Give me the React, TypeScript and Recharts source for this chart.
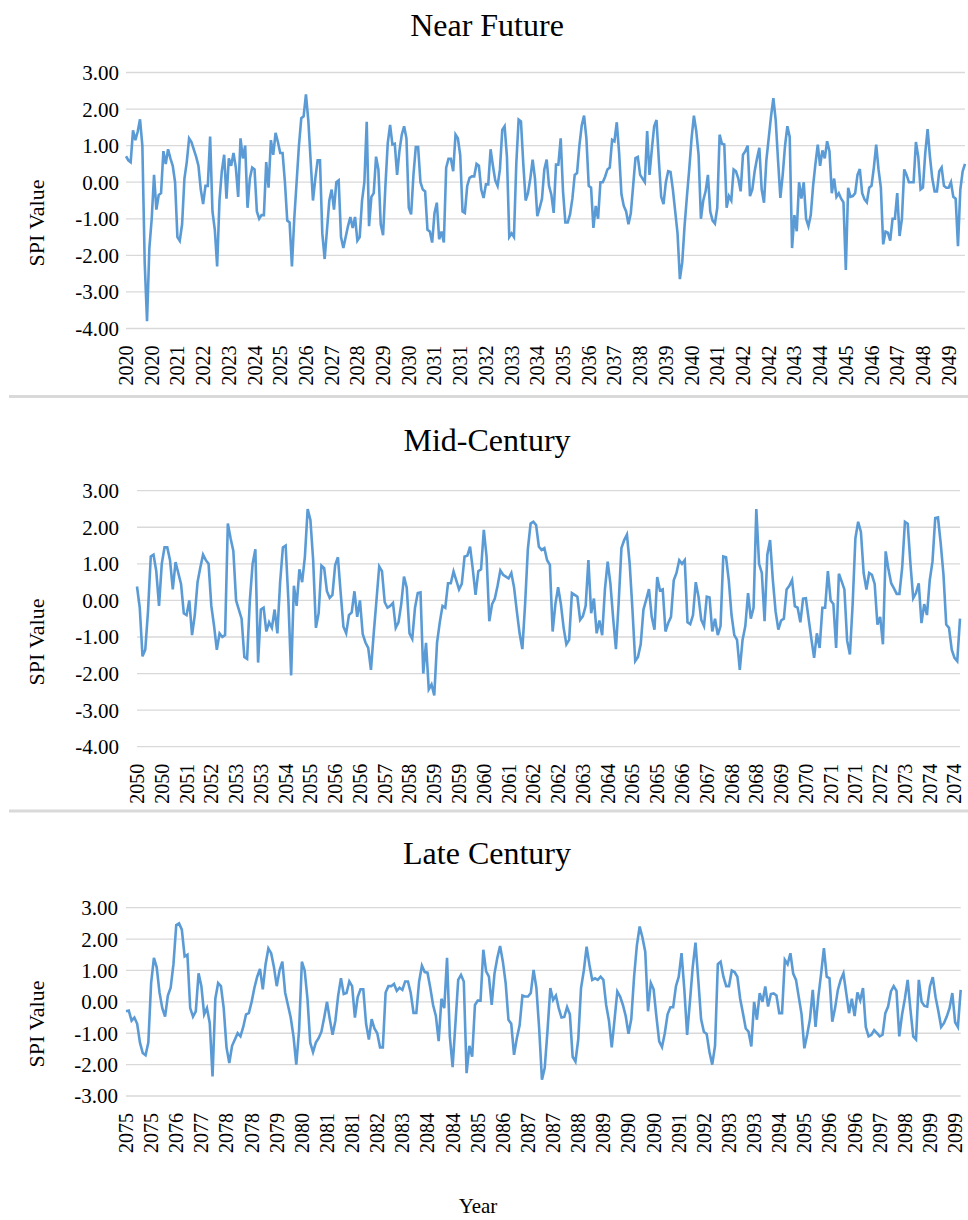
import React from "react";
import { CartesianGrid, Line, LineChart, XAxis, YAxis } from "recharts";

// monthly SPI, one row per year
const NEAR_FUTURE_START = 2020;
const NEAR_FUTURE_SPI = [
  0.71, 0.6, 0.55, 1.42, 1.15, 1.38, 1.72, 1.0, -2.2, -3.8, -1.8, -1.0,
  0.2, -0.75, -0.35, -0.3, 0.85, 0.5, 0.9, 0.65, 0.45, 0.0, -1.5, -1.6,
  -1.15, 0.1, 0.55, 1.2, 1.1, 0.9, 0.7, 0.45, -0.2, -0.6, -0.1, -0.1,
  1.25, -0.8, -1.3, -2.3, -0.5, 0.3, 0.75, -0.45, 0.65, 0.45, 0.8, 0.4,
  -0.4, 1.2, 0.65, 1.0, -0.7, 0.1, 0.4, 0.35, -0.8, -1.0, -0.9, -0.9,
  0.55, -0.15, 1.15, 0.75, 1.35, 1.1, 0.8, 0.8, 0.0, -1.05, -1.1, -2.3,
  -1.0, 0.0, 1.0, 1.75, 1.8, 2.4, 1.7, 0.6, -0.5, 0.1, 0.6, 0.6,
  -1.4, -2.1, -1.3, -0.5, -0.2, -0.75, 0.0, 0.05, -1.5, -1.8, -1.5, -1.2,
  -0.95, -1.25, -0.95, -1.6, -1.5, -0.5, 0.0, 1.65, -1.2, -0.4, -0.3, 0.7,
  0.35, -1.15, -1.45, -0.1, 1.07, 1.57, 1.03, 1.05, 0.2, 0.85, 1.3, 1.53,
  1.2, -0.7, -0.88, 0.2, 0.96, 0.96, 0.0, -0.2, -0.25, -1.3, -1.35, -1.65,
  -0.85, -0.56, -1.56, -1.35, -1.65, 0.4, 0.64, 0.64, 0.3, 1.3, 1.2, 0.75,
  -0.8, -0.84, -0.1, 0.12, 0.16, 0.16, 0.5, 0.45, -0.2, -0.43, -0.06, -0.06,
  0.9, 0.45, 0.05, -0.1, 0.35, 1.43, 1.53, 0.7, -1.5, -1.4, -1.5, 0.5,
  1.71, 1.66, 0.5, -0.5, -0.3, 0.1, 0.62, 0.1, -0.93, -0.7, -0.45, 0.35,
  0.62, -0.1, -0.34, -0.84, 0.48, 0.48, 1.2, -0.25, -1.1, -1.1, -0.88, -0.45,
  0.2, 0.25, 1.0, 1.55, 1.82, 1.2, -0.1, -0.15, -1.25, -0.65, -1.0, 0.0,
  0.0, 0.15, 0.35, 0.4, 1.16, 1.12, 1.64, 0.8, -0.33, -0.65, -0.8, -1.15,
  -0.85, -0.1, 0.66, 0.69, 0.2, 0.1, 0.0, 1.4, 0.2, 0.9, 1.53, 1.7,
  0.6, -0.4, -0.6, 0.0, 0.3, 0.28, -0.2, -0.8, -1.4, -2.65, -2.2, -1.2,
  -0.4, 0.35, 1.2, 1.82, 1.4, 0.75, -1.0, -0.5, -0.25, 0.2, -0.8, -1.05,
  -1.13, -0.7, 1.3, 1.05, 1.03, -0.7, -0.38, -0.5, 0.35, 0.3, 0.1, -0.25,
  0.75, 0.85, 1.0, -0.38, -0.2, 0.3, 0.65, 0.94, -0.2, -0.56, 0.6, 1.2,
  1.8, 2.3, 1.7, 0.6, -0.43, 0.2, 1.0, 1.53, 1.24, -1.8, -0.9, -1.34,
  0.0, -0.45, 0.0, -1.0, -1.2, -0.9, -0.1, 0.5, 1.03, 0.45, 0.87, 0.65,
  1.12, 0.85, -0.3, 0.1, -0.4, -0.3, -0.45, -0.55, -2.4, -0.15, -0.4, -0.38,
  -0.3, 0.2, 0.36, -0.3, -0.47, -0.55, -0.15, -0.1, 0.4, 1.03, 0.35, -0.15,
  -1.7, -1.35, -1.38, -1.6, -1.0, -1.0, -0.3, -1.47, -1.0, 0.35, 0.2, 0.0,
  0.0, 0.0, 1.1, 0.7, -0.2, -0.15, 0.8, 1.45, 0.7, 0.1, -0.25, -0.25,
  0.3, 0.4, -0.1, -0.15, -0.15, 0.0, -0.4, -0.45, -1.75, -0.2, 0.3, 0.5,
];

const MID_CENTURY_START = 2050;
const MID_CENTURY_SPI = [
  0.38, -0.2, -1.53, -1.35, -0.3, 1.2, 1.25, 0.8, -0.15, 1.0, 1.45, 1.45,
  1.1, 0.3, 1.05, 0.75, 0.45, -0.35, -0.4, 0.0, -0.95, -0.4, 0.5, 0.9,
  1.25, 1.1, 1.0, -0.15, -0.7, -1.35, -0.9, -1.0, -0.95, 2.1, 1.7, 1.35,
  0.0, -0.25, -0.5, -1.55, -1.6, 0.0, 1.0, 1.4, -1.7, -0.25, -0.2, -0.85,
  -0.6, -0.75, -0.25, -0.9, 0.5, 1.45, 1.5, 0.0, -2.05, 0.4, -0.15, 0.85,
  0.5, 1.2, 2.5, 2.2, 1.1, -0.75, -0.35, 0.95, 0.88, 0.25, 0.07, 0.15,
  0.97, 1.18, 0.2, -0.72, -0.9, -0.4, -0.33, 0.25, -0.45, 0.0, -0.92, -1.15,
  -1.3, -1.9, -0.9, 0.0, 0.93, 0.8, -0.05, -0.2, -0.15, -0.07, -0.75, -0.6,
  -0.1, 0.65, 0.35, -0.9, -1.05, -0.2, 0.2, 0.22, -2.0, -1.16, -2.43, -2.3,
  -2.6, -1.16, -0.6, -0.15, -0.2, 0.47, 0.47, 0.79, 0.55, 0.3, 0.45, 1.2,
  1.22, 1.47, 0.85, 0.15, 0.8, 0.85, 1.93, 1.2, -0.57, -0.1, 0.05, 0.4,
  0.82, 0.7, 0.65, 0.6, 0.75, 0.35, -0.3, -0.9, -1.33, -0.1, 1.4, 2.1,
  2.15, 2.06, 1.47, 1.38, 1.43, 1.1, 0.97, -0.85, -0.1, 0.36, -0.1, -0.75,
  -1.2, -1.08, 0.2, 0.15, 0.1, -0.53, -0.43, -0.15, 1.1, -0.35, 0.05, -0.9,
  -0.55, -0.95, 0.3, 1.06, 0.45, -0.5, -1.33, -0.05, 1.43, 1.65, 1.8, 1.0,
  -0.25, -1.66, -1.55, -1.2, -0.25, 0.02, 0.31, -0.45, -0.8, 0.64, 0.27, 0.3,
  -0.85, -0.62, -0.45, 0.55, 0.75, 1.1, 1.0, 1.1, -0.6, -0.65, -0.4, 0.5,
  0.1, -0.53, -0.7, 0.1, 0.08, -0.85, -0.5, -0.95, -0.7, 1.2, 1.18, 0.55,
  -0.4, -0.95, -1.08, -1.9, -1.08, -0.7, 0.2, -0.5, -0.2, 2.5, 1.0, 0.75,
  -0.57, 1.25, 1.65, 0.56, -0.3, -0.8, -0.55, -0.5, 0.3, 0.4, 0.56, -0.16,
  -0.2, -0.6, 0.05, 0.06, -0.5, -1.05, -1.57, -0.9, -1.3, -0.2, -0.2, 0.8,
  0.0, -0.1, -1.3, 0.73, 0.52, 0.3, -1.1, -1.48, -0.1, 1.7, 2.15, 1.87,
  0.75, 0.3, 0.75, 0.7, 0.45, -0.66, -0.45, -1.2, 1.34, 0.85, 0.47, 0.33,
  0.18, 0.18, 0.9, 2.15, 2.1, 1.0, 0.06, 0.2, 0.47, -0.62, -0.1, -0.4,
  0.55, 1.06, 2.25, 2.27, 1.55, 0.7, -0.66, -0.75, -1.35, -1.57, -1.66, -0.5,
];

const LATE_CENTURY_START = 2075;
const LATE_CENTURY_SPI = [
  -0.3, -0.28, -0.6, -0.5, -0.7, -1.3, -1.63, -1.7, -1.3, 0.6, 1.4, 1.1,
  0.3, -0.2, -0.47, 0.2, 0.45, 1.2, 2.45, 2.5, 2.3, 1.45, 1.5, -0.2,
  -0.47, -0.3, 0.91, 0.5, -0.4, -0.2, -0.68, -2.38, 0.1, 0.6, 0.5, -0.2,
  -1.45, -1.95, -1.4, -1.2, -1.0, -1.1, -0.8, -0.4, -0.36, 0.0, 0.45, 0.8,
  1.05, 0.4, 1.2, 1.7, 1.55, 1.1, 0.5, 1.0, 1.28, 0.3, -0.1, -0.5,
  -1.1, -2.0, -0.9, 1.28, 1.0, 0.1, -1.3, -1.6, -1.3, -1.16, -0.95, -0.5,
  0.0, -0.55, -1.05, -0.6, 0.2, 0.75, 0.25, 0.28, 0.65, 0.5, -0.5, 0.15,
  0.4, 0.4, -0.7, -1.2, -0.55, -0.85, -1.0, -1.45, -1.45, 0.3, 0.5, 0.5,
  0.57, 0.35, 0.45, 0.38, 0.65, 0.65, 0.28, -0.35, -0.35, 0.65, 1.15, 0.95,
  0.93, 0.45, -0.1, -0.45, -1.25, 0.1, -0.2, 1.4, -1.1, -2.08, -0.7, 0.7,
  0.86, 0.65, -2.27, -1.4, -1.75, -0.1, 0.04, 0.04, 1.66, 0.97, 0.8, -0.1,
  0.9, 1.4, 1.78, 1.28, 0.6, -0.57, -0.7, -1.69, -1.16, -0.75, 0.2, 0.17,
  0.17, 0.28, 1.02, 0.45, -0.85, -2.48, -2.1, -0.9, 0.44, 0.06, 0.2, -0.2,
  -0.5, -0.48, -0.17, -0.4, -1.75, -1.9, -1.2, 0.44, 1.0, 1.76, 1.18, 0.7,
  0.75, 0.7, 0.8, 0.7, -0.1, -0.6, -1.45, -0.57, 0.33, 0.17, -0.1, -0.45,
  -1.02, -0.55, 0.8, 1.8, 2.4, 2.05, 1.6, -0.3, 0.6, 0.4, -0.47, -1.26,
  -1.44, -1.0, -0.4, -0.17, -0.17, 0.5, 0.8, 1.55, 0.4, -1.05, 0.0, 1.1,
  1.89, 0.7, -0.55, -0.95, -1.02, -1.6, -2.0, -1.4, 1.2, 1.28, 0.8, 0.5,
  0.5, 1.0, 0.95, 0.8, 0.1, -0.36, -0.85, -0.95, -1.42, 0.0, -0.57, 0.28,
  0.0, 0.49, -0.15, 0.25, 0.27, 0.2, -0.36, -0.36, 1.34, 1.2, 1.55, 0.9,
  0.7, 0.15, -0.4, -1.48, -1.05, -0.55, 0.38, -0.8, 0.15, 0.9, 1.71, 0.8,
  0.75, -0.63, -0.2, 0.38, 0.7, 0.91, 0.28, -0.36, 0.1, -0.45, 0.3, 0.05,
  0.44, -0.8, -1.1, -1.05, -0.9, -1.0, -1.1, -1.05, -0.36, -0.15, 0.33, 0.5,
  0.35, -1.1, -0.4, 0.1, 0.7, -0.25, -1.1, -1.2, 0.7, 0.0, -0.13, -0.15,
  0.5, 0.79, 0.15, -0.3, -0.8, -0.68, -0.47, -0.2, 0.28, -0.65, -0.8, 0.38,
];

const Y_TICKS_WIDE = [-4, -3, -2, -1, 0, 1, 2, 3];
const Y_TICKS_NARROW = [-3, -2, -1, 0, 1, 2, 3];

const LINE_COLOR = "#5B9BD5";
const GRID_COLOR = "#D9D9D9";
const SERIF = '"Liberation Serif", "Times New Roman", serif';

function toRows(values: number[], startYear: number) {
  return values.map((spi, i) => ({
    month: `${startYear + Math.floor(i / 12)}-${String((i % 12) + 1).padStart(2, "0")}`,
    spi,
  }));
}

function YearTick({ x, y, payload }: any) {
  const ty = y + 17;
  return (
    <text
      x={x}
      y={ty}
      transform={`rotate(-90, ${x}, ${ty})`}
      textAnchor="end"
      dy="0.35em"
      fontSize={20}
      fontFamily={SERIF}
      fill="#000"
    >
      {String(payload.value).slice(0, 4)}
    </text>
  );
}

interface PanelProps {
  values: number[];
  startYear: number;
  top: number;
  height: number;
  plotTop: number;
  xAxisHeight: number;
  right: number;
  yWidth: number;
  yTickGap: number;
  yTicks: number[];
  interval: number;
}

function SpiPanel({ values, startYear, top, height, plotTop, xAxisHeight, right, yWidth, yTickGap, yTicks, interval }: PanelProps) {
  const rows = toRows(values, startYear);
  return (
    <div style={{ position: "absolute", left: 0, top, width: 968, height }}>
      <LineChart width={968} height={height} data={rows} margin={{ top: plotTop, right, left: 0, bottom: 0 }}>
        <CartesianGrid vertical={false} stroke={GRID_COLOR} strokeWidth={1.3} />
        <XAxis
          dataKey="month"
          scale="point"
          interval={interval}
          height={xAxisHeight}
          axisLine={false}
          tickLine={false}
          tickSize={0}
          tickMargin={0}
          tick={<YearTick />}
        />
        <YAxis
          type="number"
          domain={[yTicks[0], yTicks[yTicks.length - 1]]}
          ticks={yTicks}
          interval={0}
          width={yWidth}
          axisLine={false}
          tickLine={false}
          tickSize={0}
          tickMargin={yTickGap}
          tickFormatter={(v) => Number(v).toFixed(2)}
          tick={{ fontSize: 21, fontFamily: SERIF, fill: "#000" }}
        />
        <Line type="linear" dataKey="spi" stroke={LINE_COLOR} strokeWidth={2.6} dot={false} isAnimationActive={false} />
      </LineChart>
    </div>
  );
}

const TITLES = [
  { text: "Near Future", y: 36 },
  { text: "Mid-Century", y: 451 },
  { text: "Late Century", y: 864 },
];
const AXIS_TITLE_CENTERS = [223, 642, 1024];
const SEPARATORS = [396.5, 811];

export default function App() {
  return (
    <div style={{ position: "absolute", left: 0, top: 0, width: 968, height: 1220, background: "#fff", fontFamily: SERIF }}>
      <SpiPanel
        values={NEAR_FUTURE_SPI}
        startYear={NEAR_FUTURE_START}
        top={0}
        height={397}
        plotTop={72.5}
        xAxisHeight={68.5}
        right={3}
        yWidth={126}
        yTickGap={7}
        yTicks={Y_TICKS_WIDE}
        interval={10}
      />
      <SpiPanel
        values={MID_CENTURY_SPI}
        startYear={MID_CENTURY_START}
        top={400}
        height={410}
        plotTop={90.7}
        xAxisHeight={63.3}
        right={8}
        yWidth={137}
        yTickGap={18}
        yTicks={Y_TICKS_WIDE}
        interval={8}
      />
      <SpiPanel
        values={LATE_CENTURY_SPI}
        startYear={LATE_CENTURY_START}
        top={813}
        height={407}
        plotTop={94.7}
        xAxisHeight={124}
        right={7.3}
        yWidth={126}
        yTickGap={8}
        yTicks={Y_TICKS_NARROW}
        interval={8}
      />
      <svg width={968} height={1220} style={{ position: "absolute", left: 0, top: 0, pointerEvents: "none" }}>
        {SEPARATORS.map((y) => (
          <line key={y} x1={9} x2={968} y1={y} y2={y} stroke={GRID_COLOR} strokeWidth={3} />
        ))}
        {TITLES.map((t) => (
          <text key={t.text} x={487} y={t.y} textAnchor="middle" fontSize={32} fontFamily={SERIF} fill="#000">
            {t.text}
          </text>
        ))}
        {AXIS_TITLE_CENTERS.map((cy) => (
          <text
            key={cy}
            x={36.5}
            y={cy}
            transform={`rotate(-90, 36.5, ${cy})`}
            textAnchor="middle"
            dy="0.35em"
            fontSize={22}
            fontFamily={SERIF}
            fill="#000"
          >
            SPI Value
          </text>
        ))}
        <text x={478} y={1213} textAnchor="middle" fontSize={21} fontFamily={SERIF} fill="#000">
          Year
        </text>
      </svg>
    </div>
  );
}
